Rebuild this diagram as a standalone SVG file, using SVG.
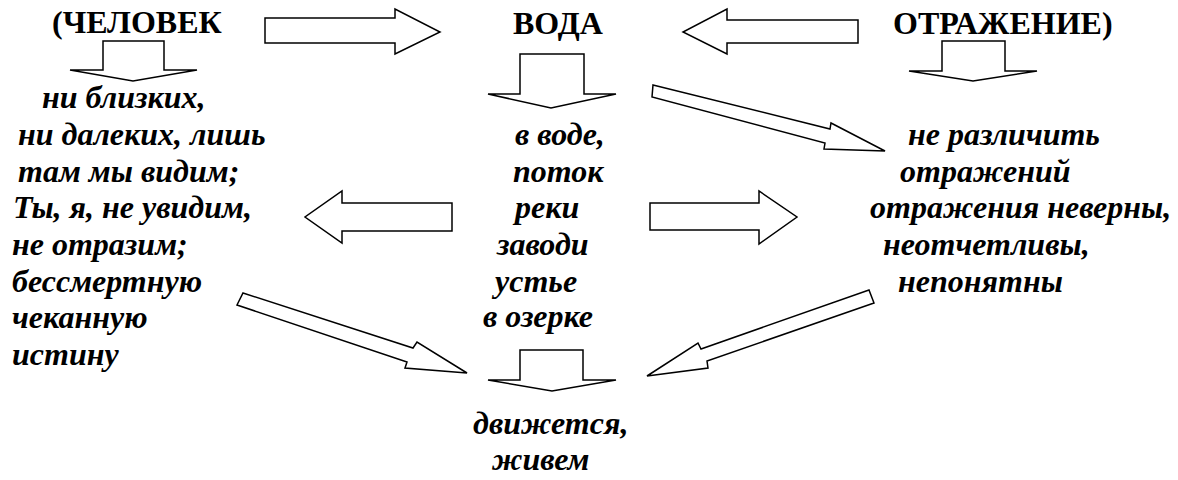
<svg xmlns="http://www.w3.org/2000/svg" width="1178" height="480" viewBox="0 0 1178 480">
<style>
.h{font-family:"Liberation Serif","Times New Roman",serif;font-weight:bold;font-size:32px;fill:#000}
.t{font-family:"Liberation Serif","Times New Roman",serif;font-weight:bold;font-style:italic;font-size:32px;fill:#000}
.a{fill:#fff;stroke:#000;stroke-width:1.5;stroke-linejoin:miter}
</style>
<rect width="1178" height="480" fill="#fff"/>
<g id="node-chelovek"><text class="h" x="52" y="33">(ЧЕЛОВЕК</text></g>
<g id="node-voda"><text class="h" x="513" y="34">ВОДА</text></g>
<g id="node-otrazhenie"><text class="h" x="893" y="34">ОТРАЖЕНИЕ)</text></g>
<g id="node-left">
<text class="t" x="42" y="108">ни близких,</text>
<text class="t" x="18" y="145">ни далеких, лишь</text>
<text class="t" x="18" y="182">там мы видим;</text>
<text class="t" x="13" y="218">Ты, я, не увидим,</text>
<text class="t" x="12" y="255">не отразим;</text>
<text class="t" x="12" y="292">бессмертную</text>
<text class="t" x="12" y="328">чеканную</text>
<text class="t" x="12" y="365">истину</text>
</g>
<g id="node-center">
<text class="t" x="515" y="145">в воде,</text>
<text class="t" x="513" y="182">поток</text>
<text class="t" x="515" y="218">реки</text>
<text class="t" x="497" y="255">заводи</text>
<text class="t" x="495" y="292">устье</text>
<text class="t" x="483" y="327">в озерке</text>
</g>
<g id="node-right">
<text class="t" x="908" y="145">не различить</text>
<text class="t" x="900" y="182">отражений</text>
<text class="t" x="870" y="218">отражения неверны,</text>
<text class="t" x="883" y="255">неотчетливы,</text>
<text class="t" x="898" y="292">непонятны</text>
</g>
<g id="node-bottom">
<text class="t" x="473" y="434">движется,</text>
<text class="t" x="492" y="470">живем</text>
</g>
<g id="connectors">
<polygon class="a" points="265,18 395,18 395,9 440,32 395,54 395,43 265,43"/>
<polygon class="a" points="858,20 727,20 727,9 683,32 727,54 727,43 858,43"/>
<polygon class="a" points="103,41 164,41 164,70 197,70 133,81 70,70 103,70"/>
<polygon class="a" points="520,54 584,54 584,94 616,94 551,108 488,94 520,94"/>
<polygon class="a" points="942,41 1005,41 1005,71 1037,71 973,81 909,71 942,71"/>
<polygon class="a" points="653,85 830,129 831,123 885,151 824,149 825,143 652,97"/>
<polygon class="a" points="452,203 342,203 342,191 305,217 342,243 342,231 452,231"/>
<polygon class="a" points="650,203 759,203 759,191 797,217 759,244 759,230 650,230"/>
<polygon class="a" points="243,293 413,348 417,342 467,373 405,368 407,362 237,305"/>
<polygon class="a" points="869,290 701,349 698,343 647,376 708,368 707,361 874,303"/>
<polygon class="a" points="520,350 583,350 583,380 616,380 552,391 488,380 520,380"/>
</g>
</svg>
